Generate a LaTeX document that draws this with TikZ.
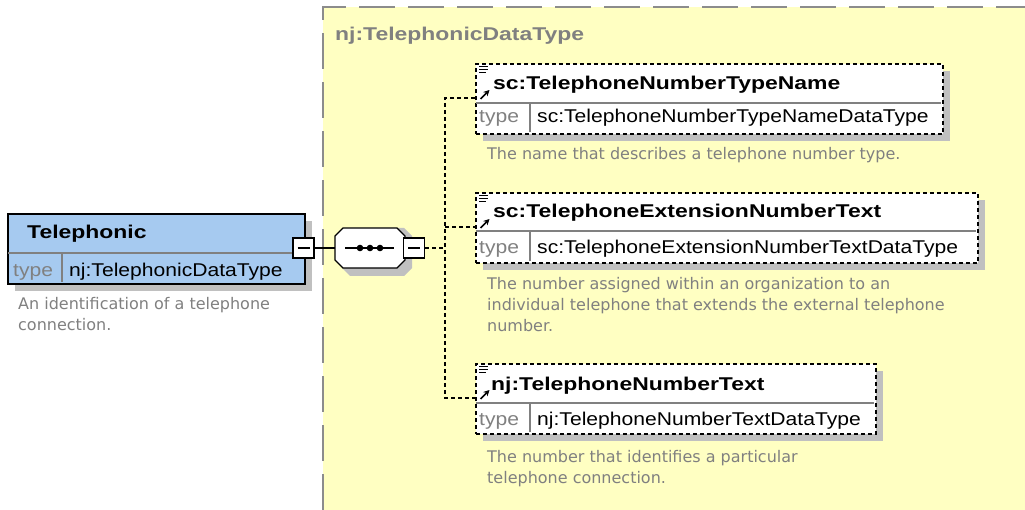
\documentclass[tikz,border=0pt]{standalone}
\usepackage{fontspec}
\usetikzlibrary{arrows.meta}
\newfontfamily\hdfont{Liberation Sans Bold}[FakeStretch=1.24]
\newfontfamily\tyfont{Liberation Sans}[FakeStretch=1.14]
\newfontfamily\dsfont{DejaVu Sans}
\definecolor{yellowbg}{RGB}{255,255,194}
\definecolor{elblue}{RGB}{166,202,240}
\definecolor{shadowc}{RGB}{192,192,192}
\definecolor{txtgray}{RGB}{128,128,128}
\definecolor{framegray}{RGB}{140,140,140}
\tikzset{
  hd/.style={anchor=base west, inner sep=0pt, font=\hdfont\fontsize{18.5}{22}\selectfont},
  ty/.style={anchor=base west, inner sep=0pt, font=\tyfont\fontsize{18.5}{22}\selectfont},
  tylabel/.style={ty, text=txtgray},
  ds/.style={anchor=base west, inner sep=0pt, text=txtgray, font=\dsfont\fontsize{16}{21}\selectfont},
  reqbox/.style={draw=black, line width=2pt, fill=elblue, anchor=north west, inner sep=0pt},
  optbox/.style={draw=black, line width=1.6pt, dash pattern=on 4pt off 3pt, fill=white, anchor=north west, inner sep=0pt},
  divline/.style={draw=txtgray, line width=1.2pt},
  minusbox/.style={draw=black, fill=white, line width=1.3pt, minimum width=21pt, minimum height=20pt, inner sep=0pt,
    path picture={\draw[line width=1.3pt] ([xshift=-6pt]path picture bounding box.center) -- ([xshift=6pt]path picture bounding box.center);}},
  conn/.style={draw=black, line width=1.6pt, dash pattern=on 4pt off 3pt},
  solidconn/.style={draw=black, line width=1.5pt},
  iconline/.style={draw=black, line width=1.2pt},
}
\begin{document}
\begin{tikzpicture}[x=1pt,y=-1pt]
\useasboundingbox (0,0) rectangle (1025,510);

% complex type area
\fill[yellowbg] (323,7) rectangle (1025,510);
\draw[framegray, line width=2pt, dash pattern=on 36pt off 13pt] (323,510) -- (323,7) -- (1025,7);
\node[hd, text=txtgray] (ctype) at (335,41) {nj:TelephonicDataType};

% shadows
\fill[shadowc] (15,221) rectangle (312,291);
\fill[shadowc] (483,71) rectangle (950,141);
\fill[shadowc] (483,200) rectangle (985,270);
\fill[shadowc] (483,371) rectangle (883,441);
\fill[shadowc] (350,228) -- (404,228) -- (412,236) -- (412,268) -- (404,276) -- (350,276) -- (342,268) -- (342,236) -- cycle;

% element Telephonic
\node[reqbox, minimum width=297pt, minimum height=70pt] (tel) at (7,213) {};
\draw[divline] (8,253) -- (303,253);
\draw[divline] (62,253) -- (62,282);
\node[hd] (telname) at (27,239) {Telephonic};
\node[tylabel] (teltl) at (13,277) {type};
\node[ty] (telty) at (69,277) {nj:TelephonicDataType};
\node[ds] (teld1) at (18,310) {An identification of a telephone};
\node[ds] (teld2) at (18,331) {connection.};

% child 1
\node[optbox, minimum width=467pt, minimum height=70pt] (c1) at (475,63) {};
\draw[divline] (476,103) -- (941,103);
\draw[divline] (530,104) -- (530,132);
\node[hd] (c1name) at (493,90) {sc:TelephoneNumberTypeName};
\node[tylabel] (c1tl) at (479,123) {type};
\node[ty] (c1ty) at (537,123) {sc:TelephoneNumberTypeNameDataType};
\node[ds] (c1d1) at (487,160) {The name that describes a telephone number type.};

% child 2
\node[optbox, minimum width=502pt, minimum height=70pt] (c2) at (475,192) {};
\draw[divline] (476,231) -- (976,231);
\draw[divline] (530,232) -- (530,261);
\node[hd] (c2name) at (493,218) {sc:TelephoneExtensionNumberText};
\node[tylabel] (c2tl) at (479,254) {type};
\node[ty] (c2ty) at (537,254) {sc:TelephoneExtensionNumberTextDataType};
\node[ds] (c2d1) at (487,290) {The number assigned within an organization to an};
\node[ds] (c2d2) at (487,311) {individual telephone that extends the external telephone};
\node[ds] (c2d3) at (487,332) {number.};

% child 3
\node[optbox, minimum width=400pt, minimum height=70pt] (c3) at (475,363) {};
\draw[divline] (476,403) -- (874,403);
\draw[divline] (530,404) -- (530,432);
\node[hd] (c3name) at (491,390) {nj:TelephoneNumberText};
\node[tylabel] (c3tl) at (479,425) {type};
\node[ty] (c3ty) at (537,425) {nj:TelephoneNumberTextDataType};
\node[ds] (c3d1) at (487,462) {The number that identifies a particular};
\node[ds] (c3d2) at (487,483) {telephone connection.};

% list and reference icons on the child headers
\foreach \yy in {63,192,363} {
  \draw[iconline] (479,\yy+3.5) -- (488,\yy+3.5);
  \draw[iconline] (479,\yy+6.5) -- (488,\yy+6.5);
  \draw[iconline] (479,\yy+9.5) -- (486,\yy+9.5);
  \draw[line width=1.6pt, -{Stealth[length=6pt,width=6pt]}] (480.5,\yy+36) -- (489.5,\yy+27);
}

% sequence compositor
\node[minimum width=70pt, minimum height=40pt, inner sep=0pt] (seq) at (370,248) {};
\draw[black, line width=1.4pt, fill=white] (343,228) -- (397,228) -- (405,236) -- (405,260) -- (397,268) -- (343,268) -- (335,260) -- (335,236) -- cycle;
\draw[black, line width=1.5pt] (345,248) -- (394,248);
\foreach \xx in {360,370,380} \fill[black] (\xx,248) circle (3.3pt);

% connection points
\coordinate (bus) at (445,248);
\coordinate (c1in) at (475,98);
\coordinate (c2in) at (475,227);
\coordinate (c3in) at (475,398);

% connectors
\node[minusbox] (telminus) at (303.5,248) {};
\node[minusbox] (seqminus) at (414,248) {};
\draw[solidconn] (telminus.east) -- (seq.west);
\draw[conn] (seqminus.east) -- (bus);
\draw[conn] (c1in) -| (bus) |- (c3in);
\draw[conn] (bus |- c2in) -- (c2in);
\end{tikzpicture}
\end{document}
